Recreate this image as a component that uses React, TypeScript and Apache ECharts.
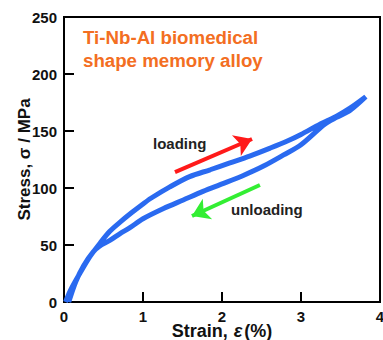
import React, { useEffect, useRef } from "react";
import * as echarts from "echarts";

const loadingStrain = [0.02, 0.08, 0.2, 0.33, 0.46, 0.58, 0.71, 0.85, 1.0, 1.1, 1.34, 1.59, 1.85, 2.1, 2.35, 2.61, 2.82, 3.0, 3.24, 3.45, 3.62, 3.82];
const loadingStress = [0, 10, 25, 40, 52, 62, 70, 78, 86, 91, 101, 110, 116, 122, 128, 135, 141, 147, 156, 163, 170, 180];
const unloadingStrain = [3.82, 3.62, 3.45, 3.3, 3.0, 2.78, 2.52, 2.27, 2.02, 1.76, 1.51, 1.26, 1.0, 0.83, 0.71, 0.58, 0.45, 0.37, 0.25, 0.15, 0.06];
const unloadingStress = [180, 168, 162, 156, 138, 129, 119, 111, 104, 97, 89.5, 82, 73, 65, 60, 54, 49, 44, 32, 18, 0];

const loadingArrow = [[1.405, 114], [2.38, 143]];
const unloadingArrow = [[2.48, 102.6], [1.62, 75.4]];

const xTicks = { min: 0, max: 4, interval: 1 };
const yTicks = { min: 0, max: 250, interval: 50 };

const FONT = "'Liberation Sans', Arial, sans-serif";

export default function App() {
  const ref = useRef<HTMLDivElement>(null);
  useEffect(() => {
    document.body.style.margin = "0";
    if (!ref.current) return;
    const chart = echarts.init(ref.current, null, { renderer: "svg" });
    const loop = [
      ...loadingStrain.map((x, i) => [x, loadingStress[i]]),
      ...unloadingStrain.map((x, i) => [x, unloadingStress[i]]),
    ];
    const axisCommon = {
      axisLine: { show: true, lineStyle: { color: "#000", width: 2 } },
      axisTick: { show: true, inside: true, length: 10, lineStyle: { color: "#000", width: 2 } },
      splitLine: { show: false },
    };
    chart.setOption({
      animation: false,
      backgroundColor: "#fff",
      grid: {
        left: 64, right: 3, top: 17, bottom: 38,
        outerBoundsMode: "none",
        containLabel: false,
        show: true, borderColor: "#000", borderWidth: 2, backgroundColor: "transparent",
      },
      xAxis: {
        type: "value",
        ...xTicks,
        ...axisCommon,
        axisLabel: { color: "#111", fontWeight: "bold", fontSize: 15, fontFamily: FONT, margin: 7, lineHeight: 15 },
        name: "{a|Strain,}{e|ε}{a|(%)}",
        nameLocation: "middle",
        nameGap: 20,
        nameMoveOverlap: false,
        nameTextStyle: {
          lineHeight: 17,
          rich: {
            a: { fontWeight: "bold", fontSize: 18, lineHeight: 17, fontFamily: FONT, color: "#111" },
            e: { fontWeight: "bold", fontStyle: "italic", fontSize: 18, lineHeight: 17, fontFamily: FONT, color: "#111", padding: [0, 2, 0, 6] },
          },
        },
      },
      yAxis: {
        type: "value",
        ...yTicks,
        ...axisCommon,
        axisLabel: { color: "#111", fontWeight: "bold", fontSize: 15, fontFamily: FONT, margin: 7 },
        name: "Stress, σ / MPa",
        nameLocation: "middle",
        nameGap: 31,
        nameMoveOverlap: false,
        nameTextStyle: { fontWeight: "bold", fontSize: 17, fontFamily: FONT, color: "#111" },
      },
      graphic: [
        {
          type: "text", left: 83, top: 26,
          style: {
            text: "Ti-Nb-Al biomedical\nshape memory alloy",
            fill: "#f36e22", font: `bold 18.7px ${FONT}`, lineHeight: 23,
          },
        },
        {
          type: "text", left: 153, top: 136,
          style: { text: "loading", fill: "#222", font: `bold 15px ${FONT}` },
        },
        {
          type: "text", left: 231, top: 202,
          style: { text: "unloading", fill: "#222", font: `bold 15px ${FONT}` },
        },
      ],
      series: [
        {
          type: "line",
          data: loop,
          smooth: 0.3,
          symbol: "none",
          lineStyle: { color: "#2a6af0", width: 5 },
          markLine: {
            silent: true,
            symbol: ["none", "arrow"],
            symbolSize: 17,
            label: { show: false },
            data: [
              [
                { coord: loadingArrow[0], lineStyle: { color: "#ff1a1a", width: 4, type: "solid" } },
                { coord: loadingArrow[1] },
              ],
              [
                { coord: unloadingArrow[0], lineStyle: { color: "#33ee33", width: 4, type: "solid" } },
                { coord: unloadingArrow[1] },
              ],
            ],
          },
        },
      ],
    });
    return () => chart.dispose();
  }, []);
  return <div ref={ref} style={{ width: 383, height: 340 }} />;
}
